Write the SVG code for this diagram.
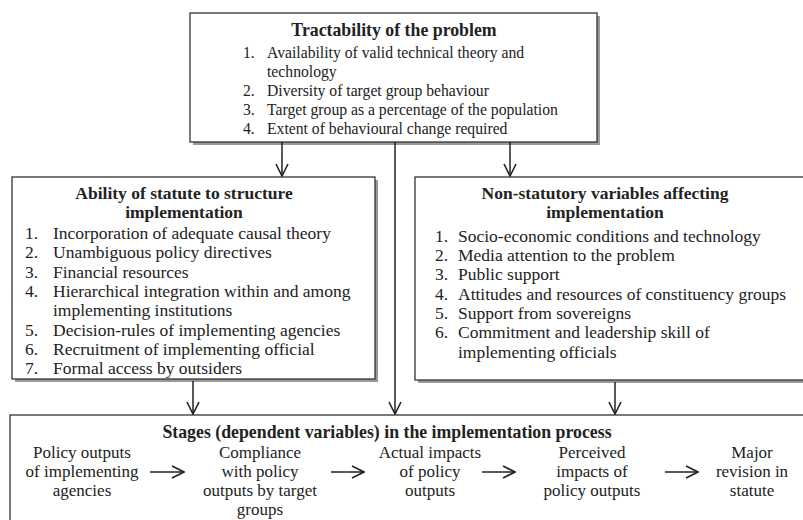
<svg xmlns="http://www.w3.org/2000/svg" width="803" height="520" viewBox="0 0 803 520">
<defs>
<style>
text{font-family:"Liberation Serif","Times New Roman",serif;font-size:17.5px;fill:#222}
.t{font-weight:bold;text-anchor:middle;font-size:17.5px}
.c{text-anchor:middle;font-size:17px}
.s{font-size:15.7px}
.box{fill:#fff;stroke:#333;stroke-width:1.3}
.sh{fill:#999;stroke:none}
.ln{stroke:#222;stroke-width:1.5;fill:none}
</style>
<marker id="ah" viewBox="0 0 14 14" refX="13" refY="7" markerWidth="14" markerHeight="14" markerUnits="userSpaceOnUse" orient="auto">
<path d="M1,1 L13,7 L1,13" fill="none" stroke="#222" stroke-width="1.6"/>
</marker>
</defs>
<rect width="803" height="520" fill="#fff"/>

<g id="tractability">
<rect class="sh" x="193" y="16" width="407" height="129"/>
<rect class="box" x="190" y="13" width="407" height="129"/>
<text class="t" x="394" y="36" style="font-size:17.8px">Tractability of the problem</text>
<text class="s" x="243" y="58">1.</text><text class="s" x="267" y="58">Availability of valid technical theory and</text>
<text class="s" x="267" y="77">technology</text>
<text class="s" x="243" y="96">2.</text><text class="s" x="267" y="96">Diversity of target group behaviour</text>
<text class="s" x="243" y="115">3.</text><text class="s" x="267" y="115">Target group as a percentage of the population</text>
<text class="s" x="243" y="134">4.</text><text class="s" x="267" y="134">Extent of behavioural change required</text>
</g>

<g id="statute">
<rect class="sh" x="15" y="180" width="363" height="202"/>
<rect class="box" x="12" y="177" width="363" height="202"/>
<text class="t" x="184" y="199">Ability of statute to structure</text>
<text class="t" x="184" y="218">implementation</text>
<text x="25" y="239">1.</text><text x="53" y="239">Incorporation of adequate causal theory</text>
<text x="25" y="258">2.</text><text x="53" y="258">Unambiguous policy directives</text>
<text x="25" y="278">3.</text><text x="53" y="278">Financial resources</text>
<text x="25" y="297">4.</text><text x="53" y="297">Hierarchical integration within and among</text>
<text x="53" y="316">implementing institutions</text>
<text x="25" y="336">5.</text><text x="53" y="336">Decision-rules of implementing agencies</text>
<text x="25" y="355">6.</text><text x="53" y="355">Recruitment of implementing official</text>
<text x="25" y="374">7.</text><text x="53" y="374">Formal access by outsiders</text>
</g>

<g id="nonstatutory">
<rect class="sh" x="418" y="180" width="400" height="203"/>
<rect class="box" x="415" y="177" width="400" height="203"/>
<text class="t" x="605" y="199">Non-statutory variables affecting</text>
<text class="t" x="605" y="218">implementation</text>
<text x="435" y="242">1.</text><text x="458" y="242">Socio-economic conditions and technology</text>
<text x="435" y="261">2.</text><text x="458" y="261">Media attention to the problem</text>
<text x="435" y="280">3.</text><text x="458" y="280">Public support</text>
<text x="435" y="300">4.</text><text x="458" y="300">Attitudes and resources of constituency groups</text>
<text x="435" y="319">5.</text><text x="458" y="319">Support from sovereigns</text>
<text x="435" y="338">6.</text><text x="458" y="338">Commitment and leadership skill of</text>
<text x="458" y="358">implementing officials</text>
</g>

<g id="stages">
<rect class="box" x="10" y="415" width="810" height="130"/>
<text class="t" x="387" y="438" style="font-size:17.8px">Stages (dependent variables) in the implementation process</text>
<text class="c" x="82" y="458">Policy outputs</text>
<text class="c" x="82" y="477">of implementing</text>
<text class="c" x="82" y="496">agencies</text>
<text class="c" x="260" y="458">Compliance</text>
<text class="c" x="260" y="477">with policy</text>
<text class="c" x="260" y="496">outputs by target</text>
<text class="c" x="260" y="515">groups</text>
<text class="c" x="430" y="458">Actual impacts</text>
<text class="c" x="430" y="477">of policy</text>
<text class="c" x="430" y="496">outputs</text>
<text class="c" x="592" y="458">Perceived</text>
<text class="c" x="592" y="477">impacts of</text>
<text class="c" x="592" y="496">policy outputs</text>
<text class="c" x="752" y="458">Major</text>
<text class="c" x="752" y="477">revision in</text>
<text class="c" x="752" y="496">statute</text>
</g>

<g id="connectors">
<line class="ln" x1="282" y1="142" x2="282" y2="176" marker-end="url(#ah)"/>
<line class="ln" x1="395" y1="142" x2="395" y2="414" marker-end="url(#ah)"/>
<line class="ln" x1="510" y1="142" x2="510" y2="176" marker-end="url(#ah)"/>
<line class="ln" x1="193" y1="381" x2="193" y2="414" marker-end="url(#ah)"/>
<line class="ln" x1="615" y1="382" x2="615" y2="414" marker-end="url(#ah)"/>
<line class="ln" x1="150" y1="472" x2="184" y2="472" marker-end="url(#ah)"/>
<line class="ln" x1="331" y1="472" x2="364" y2="472" marker-end="url(#ah)"/>
<line class="ln" x1="482" y1="472" x2="515" y2="472" marker-end="url(#ah)"/>
<line class="ln" x1="665" y1="472" x2="698" y2="472" marker-end="url(#ah)"/>
</g>
</svg>
